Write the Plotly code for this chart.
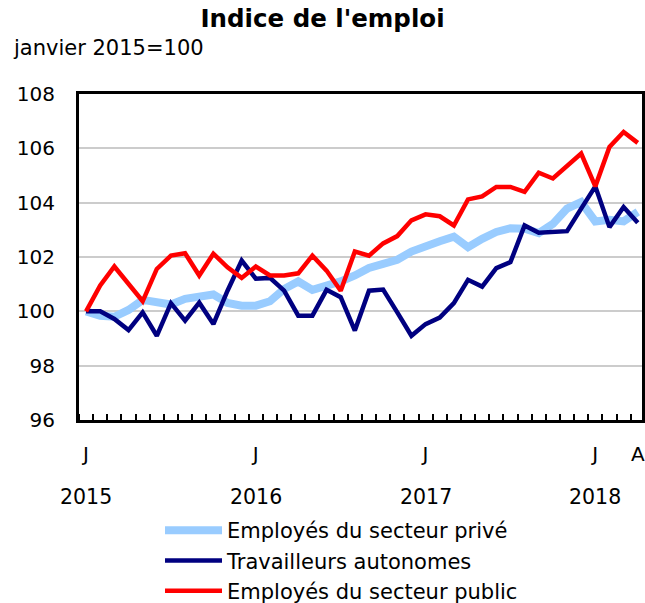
import plotly.graph_objects as go

months = list(range(40))  # janvier 2015 .. avril 2018
tick_pos = [0, 12, 24, 36, 39]
tick_text = ["J", "J", "J", "J", "A"]
year_pos = [0, 12, 24, 36]
year_text = ["2015", "2016", "2017", "2018"]
y_ticks = [96, 98, 100, 102, 104, 106, 108]

prive = [100.0, 99.84, 99.8, 100.05, 100.42, 100.37, 100.25, 100.46, 100.54, 100.62,
         100.31, 100.21, 100.21, 100.37, 100.82, 101.1, 100.79, 100.91, 101.1, 101.32,
         101.6, 101.75, 101.9, 102.2, 102.42, 102.58, 102.75, 102.36, 102.67, 102.92,
         103.06, 103.04, 102.88, 103.22, 103.78, 104.02, 103.31, 103.37, 103.31, 103.66]
autonomes = [100.0, 100.0, 99.72, 99.31, 99.96, 99.1, 100.3, 99.66, 100.32, 99.53,
             100.76, 101.87, 101.2, 101.23, 100.76, 99.84, 99.84, 100.79, 100.52, 99.29,
             100.76, 100.8, 99.96, 99.1, 99.53, 99.77, 100.3, 101.16, 100.91, 101.59,
             101.81, 103.16, 102.89, 102.92, 102.95, 103.78, 104.6, 103.1, 103.84, 103.26]
public = [100.0, 100.95, 101.65, 101.0, 100.37, 101.56, 102.05, 102.14, 101.32, 102.12,
          101.62, 101.23, 101.65, 101.32, 101.32, 101.4, 102.05, 101.5, 100.76, 102.2,
          102.05, 102.5, 102.77, 103.35, 103.57, 103.5, 103.16, 104.12, 104.23, 104.58,
          104.58, 104.4, 105.1, 104.89, 105.34, 105.81, 104.6, 106.05, 106.6, 106.2]

FONT = "DejaVu Sans"
L, R, T, B = 79, 3, 94, 183
PW, PH = 645 - L - R, 603 - T - B

fig = go.Figure()
fig.add_trace(go.Scatter(x=months, y=prive, mode="lines", name="Employés du secteur privé",
                         line=dict(color="#99CCFF", width=8)))
fig.add_trace(go.Scatter(x=months, y=autonomes, mode="lines", name="Travailleurs autonomes",
                         line=dict(color="#000080", width=4.5)))
fig.add_trace(go.Scatter(x=months, y=public, mode="lines", name="Employés du secteur public",
                         line=dict(color="#FF0000", width=4.5)))

for xp, yt in zip(year_pos, year_text):
    fig.add_annotation(x=xp, y=-(497 - (T + PH)) / PH, xref="x", yref="paper", text=yt,
                       showarrow=False, font=dict(family=FONT, size=20.5, color="black"),
                       xanchor="center", yanchor="middle")

fig.add_annotation(x=(11 - L) / PW, y=(T + PH - 48) / PH, xref="paper", yref="paper",
                   text="janvier 2015=100", showarrow=False,
                   font=dict(family=FONT, size=21, color="black"),
                   xanchor="left", yanchor="middle")

fig.update_layout(
    width=645, height=603,
    margin=dict(l=L, r=R, t=T, b=B, autoexpand=False),
    paper_bgcolor="white", plot_bgcolor="white",
    title=dict(text="<b>Indice de l'emploi</b>", x=0.5, xanchor="center",
               y=1 - 18 / 603, yanchor="middle", automargin=False,
               font=dict(family=FONT, size=24.5, color="black")),
    font=dict(family=FONT, size=20, color="black"),
    showlegend=True,
    legend=dict(x=(160 - L) / PW, xanchor="left", y=-(510 - (T + PH)) / PH, yanchor="top",
                font=dict(family=FONT, size=21, color="black"),
                bgcolor="rgba(0,0,0,0)", itemwidth=57, tracegroupgap=0),
    xaxis=dict(range=[-0.5, 39.3], tickmode="array", tickvals=tick_pos, ticktext=tick_text,
               ticks="", showgrid=False, zeroline=False, automargin=False,
               showline=True, linecolor="black", linewidth=3, mirror=True,
               ticklabelstandoff=14,
               tickfont=dict(family=FONT, size=20, color="black"),
               minor=dict(tick0=0.5, dtick=1, ticks="inside", ticklen=6,
                          tickwidth=2, tickcolor="black", showgrid=False)),
    yaxis=dict(range=[96, 108], tickmode="array", tickvals=y_ticks,
               ticks="", showgrid=True, gridcolor="#CCCCCC", gridwidth=2,
               zeroline=False, showline=True, linecolor="black", linewidth=3, mirror=True,
               ticklabelstandoff=17, automargin=False,
               tickfont=dict(family=FONT, size=20, color="black")),
)

fig.write_html("out.html", config={"displayModeBar": False},
               post_script="document.body.style.margin='0';document.body.style.overflow='hidden';")
